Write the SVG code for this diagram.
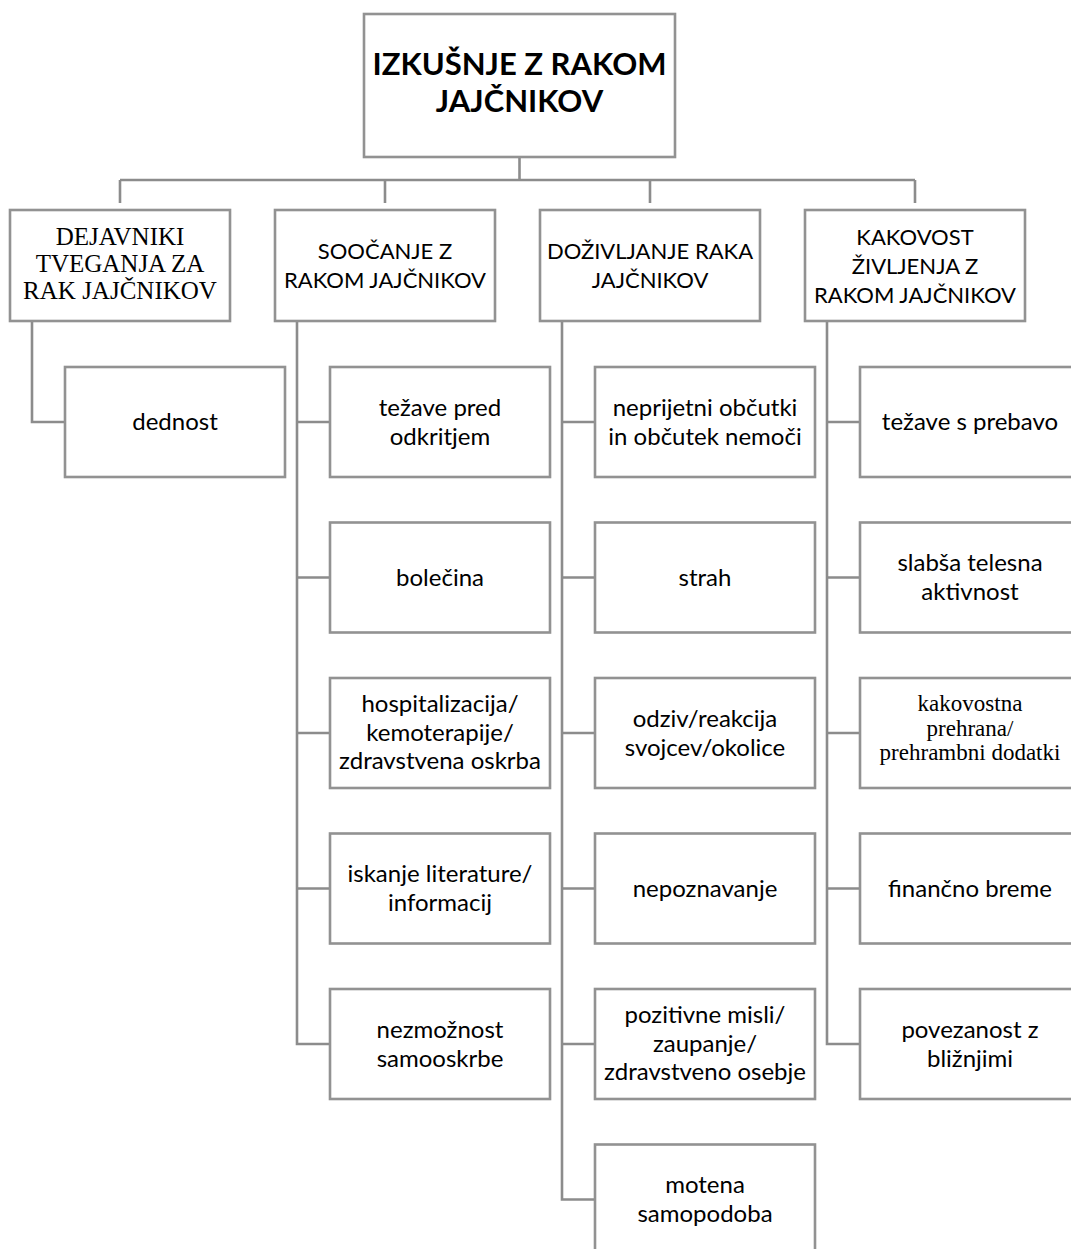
<svg xmlns="http://www.w3.org/2000/svg" width="1071" height="1249" viewBox="0 0 1071 1249">
<style>
.box{fill:#fff;stroke:#929292;stroke-width:2.6}
.ln{fill:none;stroke:#8c8c8c;stroke-width:2.6}
.s{font-family:Lato,"Open Sans",sans-serif;font-size:24px;fill:#000;text-anchor:middle}
.h{font-family:Lato,"Open Sans",sans-serif;font-size:22px;fill:#000;text-anchor:middle}
.t{font-family:"Liberation Serif","Times New Roman",serif;font-size:25px;fill:#000;text-anchor:middle}
.t2{font-family:"Liberation Serif","Times New Roman",serif;font-size:23px;fill:#000;text-anchor:middle}
.root{font-family:Lato,"Open Sans",sans-serif;font-size:31px;font-weight:bold;fill:#000;text-anchor:middle}
</style>
<rect width="1071" height="1249" fill="#fff"/>
<g id="connectors">
<path class="ln" d="M519.5 157 V180" stroke-width="4"/>
<path class="ln" d="M120 180 H915 M120 180 V203 M385 180 V203 M650 180 V203 M915 180 V203"/>
<path class="ln" d="M32 321 V422 H65"/>
<path class="ln" d="M297 321 V1044 H330 M297 422 H330 M297 577.5 H330 M297 733 H330 M297 888.5 H330"/>
<path class="ln" d="M562 321 V1199.5 H595 M562 422 H595 M562 577.5 H595 M562 733 H595 M562 888.5 H595 M562 1044 H595"/>
<path class="ln" d="M827 321 V1044 H860 M827 422 H860 M827 577.5 H860 M827 733 H860 M827 888.5 H860"/>
</g>
<g id="root">
<rect class="box" x="364" y="14" width="311" height="143"/>
<text class="root" x="519.5" y="75">IZKUŠNJE Z RAKOM</text>
<text class="root" x="519.5" y="112">JAJČNIKOV</text>
</g>
<g id="n1">
<rect class="box" x="10" y="210" width="220" height="111"/>
<text class="t" x="120" y="245">DEJAVNIKI</text>
<text class="t" x="120" y="272">TVEGANJA ZA</text>
<text class="t" x="120" y="299">RAK JAJČNIKOV</text>
</g>
<g id="n2">
<rect class="box" x="275" y="210" width="220" height="111"/>
<text class="h" x="385" y="259">SOOČANJE Z</text>
<text class="h" x="385" y="288">RAKOM JAJČNIKOV</text>
</g>
<g id="n3">
<rect class="box" x="540" y="210" width="220" height="111"/>
<text class="h" x="650" y="259">DOŽIVLJANJE RAKA</text>
<text class="h" x="650" y="288">JAJČNIKOV</text>
</g>
<g id="n4">
<rect class="box" x="805" y="210" width="220" height="111"/>
<text class="h" x="915" y="245">KAKOVOST</text>
<text class="h" x="915" y="274">ŽIVLJENJA Z</text>
<text class="h" x="915" y="303">RAKOM JAJČNIKOV</text>
</g>
<g id="c1-1">
<rect class="box" x="65" y="367" width="220" height="110"/>
<text class="s" x="175" y="430">dednost</text>
</g>
<g id="c2-1">
<rect class="box" x="330" y="367" width="220" height="110"/>
<text class="s" x="440" y="415.5">težave pred</text>
<text class="s" x="440" y="444.5">odkritjem</text>
</g>
<g id="c2-2">
<rect class="box" x="330" y="522.5" width="220" height="110"/>
<text class="s" x="440" y="585.5">bolečina</text>
</g>
<g id="c2-3">
<rect class="box" x="330" y="678" width="220" height="110"/>
<text class="s" x="440" y="712">hospitalizacija/</text>
<text class="s" x="440" y="740.5">kemoterapije/</text>
<text class="s" x="440" y="769">zdravstvena oskrba</text>
</g>
<g id="c2-4">
<rect class="box" x="330" y="833.5" width="220" height="110"/>
<text class="s" x="440" y="882">iskanje literature/</text>
<text class="s" x="440" y="911">informacij</text>
</g>
<g id="c2-5">
<rect class="box" x="330" y="989" width="220" height="110"/>
<text class="s" x="440" y="1037.5">nezmožnost</text>
<text class="s" x="440" y="1066.5">samooskrbe</text>
</g>
<g id="c3-1">
<rect class="box" x="595" y="367" width="220" height="110"/>
<text class="s" x="705" y="415.5">neprijetni občutki</text>
<text class="s" x="705" y="444.5">in občutek nemoči</text>
</g>
<g id="c3-2">
<rect class="box" x="595" y="522.5" width="220" height="110"/>
<text class="s" x="705" y="585.5">strah</text>
</g>
<g id="c3-3">
<rect class="box" x="595" y="678" width="220" height="110"/>
<text class="s" x="705" y="726.5">odziv/reakcija</text>
<text class="s" x="705" y="755.5">svojcev/okolice</text>
</g>
<g id="c3-4">
<rect class="box" x="595" y="833.5" width="220" height="110"/>
<text class="s" x="705" y="896.5">nepoznavanje</text>
</g>
<g id="c3-5">
<rect class="box" x="595" y="989" width="220" height="110"/>
<text class="s" x="705" y="1023">pozitivne misli/</text>
<text class="s" x="705" y="1051.5">zaupanje/</text>
<text class="s" x="705" y="1080">zdravstveno osebje</text>
</g>
<g id="c3-6">
<rect class="box" x="595" y="1144.5" width="220" height="110"/>
<text class="s" x="705" y="1193">motena</text>
<text class="s" x="705" y="1222">samopodoba</text>
</g>
<g id="c4-1">
<rect class="box" x="860" y="367" width="220" height="110"/>
<text class="s" x="970" y="430">težave s prebavo</text>
</g>
<g id="c4-2">
<rect class="box" x="860" y="522.5" width="220" height="110"/>
<text class="s" x="970" y="571">slabša telesna</text>
<text class="s" x="970" y="600">aktivnost</text>
</g>
<g id="c4-3">
<rect class="box" x="860" y="678" width="220" height="110"/>
<text class="t2" x="970" y="711">kakovostna</text>
<text class="t2" x="970" y="735.5">prehrana/</text>
<text class="t2" x="970" y="760">prehrambni dodatki</text>
</g>
<g id="c4-4">
<rect class="box" x="860" y="833.5" width="220" height="110"/>
<text class="s" x="970" y="896.5">finančno breme</text>
</g>
<g id="c4-5">
<rect class="box" x="860" y="989" width="220" height="110"/>
<text class="s" x="970" y="1037.5">povezanost z</text>
<text class="s" x="970" y="1066.5">bližnjimi</text>
</g>
</svg>
